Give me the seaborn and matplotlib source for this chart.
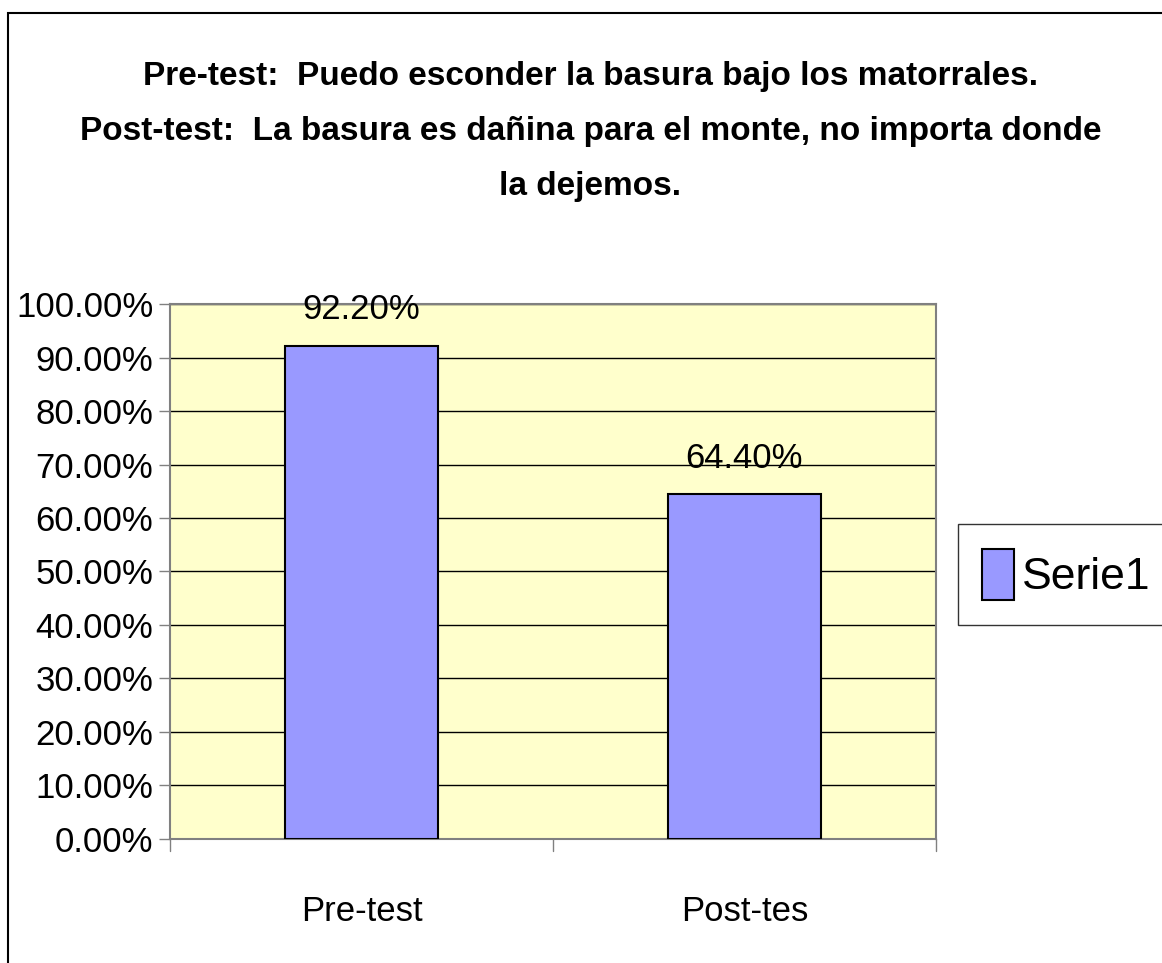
import matplotlib
matplotlib.use("Agg")
import matplotlib.pyplot as plt
import seaborn as sns
import pandas as pd
from matplotlib.patches import Rectangle
from matplotlib.ticker import FuncFormatter, MultipleLocator

# Data
categories = ["Pre-test", "Post-tes"]
values = [92.20, 64.40]
series_name = "Serie1"
title_lines = [
    "Pre-test:  Puedo esconder la basura bajo los matorrales.",
    "Post-test:  La basura es dañina para el monte, no importa donde",
    "la dejemos.",
]

sns.set_theme(style="white")
plt.rcParams['font.family'] = ['Liberation Sans', 'DejaVu Sans']
plt.rcParams['text.color'] = 'black'
plt.rcParams['xtick.color'] = 'black'
plt.rcParams['ytick.color'] = 'black'

df = pd.DataFrame({"cat": categories, "val": values})

fig = plt.figure(figsize=(11.62, 9.63), dpi=100)
ax = fig.add_axes([0.1463, 0.1288, 0.6592, 0.5555])
ax.set_facecolor("#FFFFCC")

sns.barplot(data=df, x="cat", y="val", color="#9999FF", edgecolor="black",
            linewidth=1.5, width=0.4, saturation=1, ax=ax, zorder=3)

ax.set_ylim(0, 100)
ax.set_xlim(-0.5, 1.5)
ax.yaxis.set_major_locator(MultipleLocator(10))
ax.yaxis.set_major_formatter(FuncFormatter(lambda v, p: f"{v:.2f}%"))
ax.grid(axis="y", color="black", linewidth=1, zorder=0)
ax.set_axisbelow(True)
ax.set_xlabel("")
ax.set_ylabel("")

for s in ["top", "right", "left", "bottom"]:
    ax.spines[s].set_color("#808080")
    ax.spines[s].set_linewidth(1.5)

ax.tick_params(axis="y", left=True, length=8, width=1, color="#808080",
               labelsize=25, pad=4, labelcolor="black")
ax.set_xticks([0, 1])
ax.set_xticklabels(categories)
ax.tick_params(axis="x", bottom=False, labelsize=25, pad=34, labelcolor="black")
for xb in [-0.5, 0.5, 1.5]:
    ax.plot([xb, xb], [0, -2.2], color="#808080", lw=1, clip_on=False,
            transform=ax.transData)

for i, v in enumerate(values):
    ax.annotate(f"{v:.2f}%", (i, v), xytext=(0, 26), textcoords="offset points",
                ha="center", va="center", fontsize=25, color="black")

fig.text(0.508, 0.863, "\n".join(title_lines), ha="center", va="center",
         fontsize=24, fontweight="bold", linespacing=2.0, color="black")

handle = Rectangle((0, 0), 1, 1, facecolor="#9999FF", edgecolor="black", lw=1.5)
leg = fig.legend([handle], [series_name], loc="center left",
                 bbox_to_anchor=(0.8244, 0.4034), fontsize=32, frameon=True,
                 fancybox=False, handlelength=0.7, handleheight=1.4,
                 handletextpad=0.2, borderpad=0.55, borderaxespad=0)
leg.get_frame().set_edgecolor("black")
leg.get_frame().set_linewidth(1)

fig.patches.append(Rectangle((0.0069, -0.1), 1.2, 1.0865, transform=fig.transFigure,
                             fill=False, edgecolor="black", lw=1.5))

fig.savefig("out.png", dpi=100)
